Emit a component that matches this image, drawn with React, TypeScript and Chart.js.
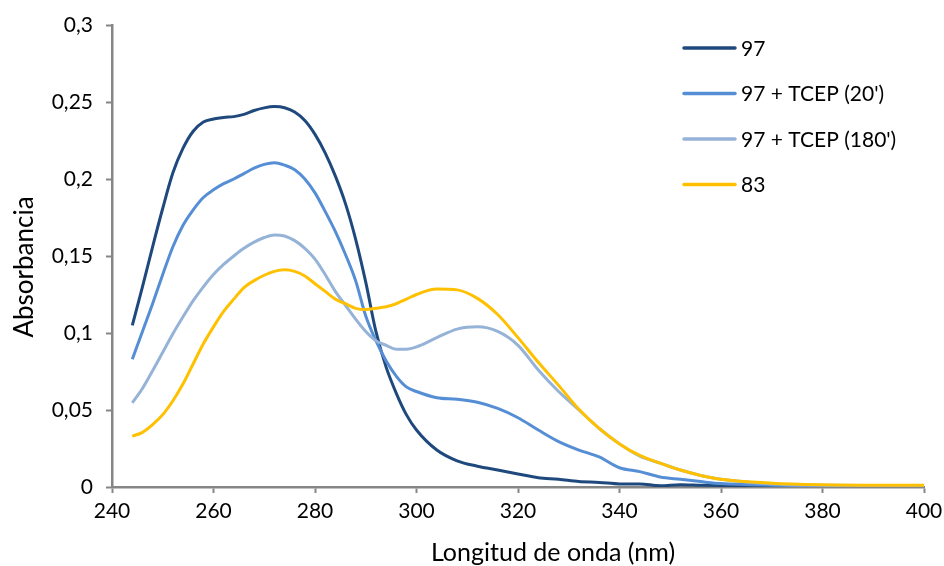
import React, { useEffect, useRef } from 'react';
import { Chart, registerables } from 'chart.js';

Chart.register(...registerables);

// Wavelength (nm)
const wavelengths = [
  244, 246, 248, 250, 252, 254, 256, 258, 260, 262, 264, 266, 268, 270, 272, 274, 276, 278, 280,
  282, 284, 286, 288, 290, 292, 294, 296, 298, 300, 304, 308, 312, 316, 320, 324, 328, 332, 336,
  340, 344, 348, 352, 356, 360, 370, 380, 390, 400,
];

const series97 = [
  0.105, 0.13, 0.156, 0.181, 0.204, 0.22, 0.231, 0.237, 0.239, 0.24, 0.2405, 0.242, 0.2445, 0.2462,
  0.247, 0.2463, 0.2435, 0.238, 0.229, 0.217, 0.202, 0.184, 0.161, 0.133, 0.101, 0.078, 0.061, 0.047,
  0.037, 0.024, 0.017, 0.0135, 0.011, 0.0085, 0.006, 0.005, 0.0035, 0.003, 0.002, 0.002, 0.0008,
  0.0015, 0.0012, 0.001, 0.0008, 0.0006, 0.0005, 0.0005,
];

const series97Tcep20 = [
  0.083, 0.101, 0.119, 0.138, 0.156, 0.17, 0.18, 0.188, 0.193, 0.197, 0.2, 0.2035, 0.207, 0.2095,
  0.2106, 0.209, 0.206, 0.2, 0.191, 0.179, 0.166, 0.151, 0.134, 0.111, 0.095, 0.082, 0.072, 0.065,
  0.062, 0.058, 0.057, 0.055, 0.051, 0.045, 0.037, 0.0295, 0.024, 0.0195, 0.0125, 0.01, 0.0065,
  0.005, 0.0035, 0.0022, 0.0012, 0.001, 0.0009, 0.0009,
];

const series97Tcep180 = [
  0.0547, 0.064, 0.0755, 0.0875, 0.0995, 0.1105, 0.121, 0.13, 0.138, 0.1445, 0.15, 0.155, 0.159,
  0.162, 0.1637, 0.163, 0.16, 0.155, 0.148, 0.138, 0.127, 0.118, 0.109, 0.101, 0.095, 0.092, 0.0895,
  0.0895, 0.091, 0.097, 0.1025, 0.104, 0.101, 0.092, 0.076, 0.062, 0.05, 0.038, 0.028, 0.02, 0.0155,
  0.011, 0.0075, 0.005, 0.002, 0.0012, 0.001, 0.001,
];

const series83 = [
  0.033, 0.0355, 0.0405, 0.047, 0.056, 0.067, 0.08, 0.093, 0.104, 0.114, 0.122, 0.1295, 0.134, 0.1375,
  0.14, 0.141, 0.14, 0.137, 0.132, 0.127, 0.122, 0.119, 0.116, 0.1152, 0.116, 0.117, 0.119, 0.122,
  0.125, 0.1285, 0.128, 0.1225, 0.112, 0.097, 0.081, 0.066, 0.0505, 0.038, 0.028, 0.0205, 0.0155,
  0.011, 0.0075, 0.005, 0.0025, 0.0015, 0.0012, 0.0012,
];

const seriesLabels = ['97', "97 + TCEP (20')", "97 + TCEP (180')", '83'];
const seriesColors = ['#1F497D', '#558ED5', '#95B3D7', '#FFC000'];
const seriesValues = [series97, series97Tcep20, series97Tcep180, series83];

const xTitle = 'Longitud de onda (nm)';
const yTitle = 'Absorbancia';

const FONT = 'Lato';
const AXIS_COLOR = '#868686';

const legendPlugin = {
  id: 'customLegend',
  afterDraw(chart: any) {
    const ctx = chart.ctx;
    ctx.save();
    ctx.font = `21px ${FONT}`;
    ctx.textBaseline = 'middle';
    ctx.textAlign = 'left';
    chart.data.datasets.forEach((ds: any, i: number) => {
      const y = 48 + i * 45.5;
      ctx.strokeStyle = ds.borderColor;
      ctx.lineWidth = 3.5;
      ctx.lineCap = 'round';
      ctx.beginPath();
      ctx.moveTo(684, y);
      ctx.lineTo(735, y);
      ctx.stroke();
      ctx.fillStyle = '#000000';
      ctx.fillText(ds.label, 741, y + 1);
    });
    ctx.restore();
  },
};

const axisTitlePlugin = {
  id: 'axisTitles',
  afterDraw(chart: any) {
    const ctx = chart.ctx;
    ctx.save();
    ctx.fillStyle = '#000000';
    ctx.textAlign = 'center';
    ctx.textBaseline = 'alphabetic';
    ctx.font = `25px ${FONT}`;
    ctx.fillText(xTitle, 553, 561);
    ctx.font = `26px ${FONT}`;
    ctx.translate(33, 267);
    ctx.rotate(-Math.PI / 2);
    ctx.fillText(yTitle, 0, 0);
    ctx.restore();
  },
};

export default function App() {
  const canvasRef = useRef<HTMLCanvasElement | null>(null);

  useEffect(() => {
    if (!canvasRef.current) return;
    Chart.defaults.font.family = FONT;
    const datasets = seriesValues.map((vals, i) => ({
      label: seriesLabels[i],
      data: wavelengths.map((x, j) => ({ x, y: vals[j] })),
      borderColor: seriesColors[i],
      backgroundColor: seriesColors[i],
      borderWidth: 3,
      pointRadius: 0,
      fill: false,
      cubicInterpolationMode: 'monotone' as const,
      order: seriesValues.length - i,
    }));

    const chart = new Chart(canvasRef.current, {
      type: 'line',
      data: { datasets },
      options: {
        responsive: false,
        animation: false,
        layout: { padding: { left: 0, right: 20, top: 25, bottom: 0 } },
        plugins: {
          legend: { display: false },
          tooltip: { enabled: false },
        },
        scales: {
          x: {
            type: 'linear',
            min: 240,
            max: 400,
            afterFit: (scale: any) => {
              scale.height = 79;
              scale.paddingRight = 0;
              scale.paddingLeft = 0;
            },
            ticks: {
              stepSize: 20,
              color: '#000000',
              font: { size: 21, family: FONT },
              padding: 6,
              maxRotation: 0,
            },
            grid: {
              drawOnChartArea: false,
              drawTicks: true,
              tickLength: 6,
              tickColor: AXIS_COLOR,
              tickWidth: 2,
            },
            border: { color: AXIS_COLOR, width: 2.5 },
            title: { display: false },
          },
          y: {
            type: 'linear',
            min: 0,
            max: 0.3,
            afterFit: (scale: any) => {
              scale.width = 112;
              scale.paddingTop = 0;
              scale.paddingBottom = 0;
            },
            ticks: {
              stepSize: 0.05,
              color: '#000000',
              font: { size: 21, family: FONT },
              padding: 13,
              callback: (v: any) => Number(Number(v).toFixed(2)).toString().replace('.', ','),
            },
            grid: {
              drawOnChartArea: false,
              drawTicks: true,
              tickLength: 6,
              tickColor: AXIS_COLOR,
              tickWidth: 2,
            },
            border: { color: AXIS_COLOR, width: 2.5 },
            title: { display: false },
          },
        },
      },
      plugins: [legendPlugin, axisTitlePlugin],
    });

    return () => chart.destroy();
  }, []);

  return (
    <div style={{ position: 'absolute', left: 0, top: 0, width: 944, height: 566, background: '#ffffff' }}>
      <canvas ref={canvasRef} width={944} height={566} />
    </div>
  );
}
